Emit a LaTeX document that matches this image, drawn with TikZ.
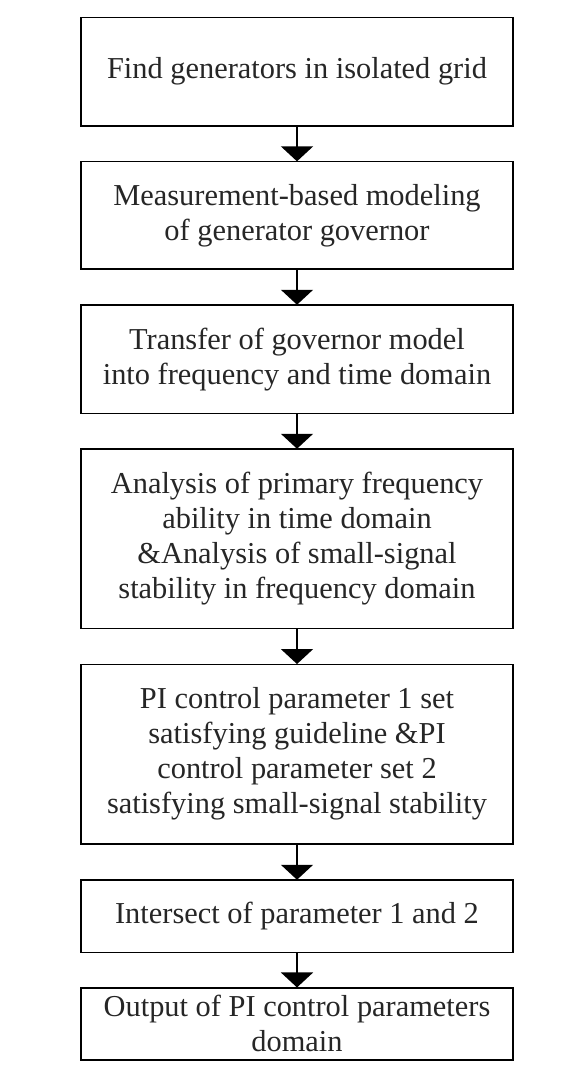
\documentclass[tikz,border=0pt]{standalone}
\usepackage{fontspec}
\setmainfont{Liberation Serif}
\usetikzlibrary{arrows.meta}
\tikzset{
  stepbox/.style={draw=black, line width=1.6pt, minimum width=432pt, inner sep=0pt, align=center,
    font=\fontsize{30.4}{35}\selectfont, text=black!85},
  flowarrow/.style={line width=1.8pt, -{Triangle[width=32pt,length=15pt]}, shorten >=-0.5pt}
}
\begin{document}
\begin{tikzpicture}[x=1pt,y=-1pt]
\useasboundingbox (0,0) rectangle (571,1078);
\node[stepbox, minimum height=108.7pt] (b1) at (297,71.7) {Find generators in isolated grid};
\node[stepbox, minimum height=107.3pt] (b2) at (297,215.3) {Measurement-based modeling\\of generator governor};
\node[stepbox, minimum height=108.3pt] (b3) at (297,359.2) {Transfer of governor model\\into frequency and time domain};
\node[stepbox, minimum height=179.5pt] (b4) at (297,538.8) {Analysis of primary frequency\\ability in time domain\\\&Analysis of small-signal\\stability in frequency domain};
\node[stepbox, minimum height=179.7pt] (b5) at (297,754.2) {PI control parameter 1 set\\satisfying guideline \&PI\\control parameter set 2\\satisfying small-signal stability};
\node[stepbox, minimum height=72.3pt] (b6) at (297,916.2) {Intersect of parameter 1 and 2};
\node[stepbox, minimum height=72.3pt] (b7) at (297,1023.9) {Output of PI control parameters\\domain};
\draw[flowarrow] (b1) -- (b2);
\draw[flowarrow] (b2) -- (b3);
\draw[flowarrow] (b3) -- (b4);
\draw[flowarrow] (b4) -- (b5);
\draw[flowarrow] (b5) -- (b6);
\draw[flowarrow] (b6) -- (b7);
\end{tikzpicture}
\end{document}
